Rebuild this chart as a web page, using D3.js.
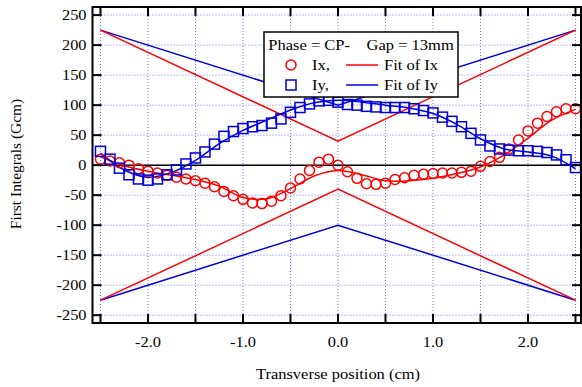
<!DOCTYPE html>
<html>
<head>
<meta charset="utf-8">
<script src="https://cdn.jsdelivr.net/npm/d3@7"></script>
<style>
  body { margin: 0; background: #fff; }
  svg text { font-family: "Liberation Serif", "DejaVu Serif", serif; fill: #000; }
</style>
</head>
<body>
<div id="chart"></div>
<script>
// measured points, every 0.1 cm
var positions = d3.range(51).map(function (i) { return +(-2.5 + i * 0.1).toFixed(1); });
var ixValues = [10, 7, 4, 0, -6, -10, -13, -17, -20, -23, -26, -30, -36, -44, -51, -57, -63, -64, -60, -51,
  -38, -23, -9, 5, 10, 0, -11, -22, -31, -32, -30, -24, -21, -17, -15, -14, -13, -13, -12, -10,
  -2, 6, 13, 27, 42, 57, 70, 81, 89, 94, 94];
var iyValues = [23, 10, -5, -16, -23, -25, -23, -16, -8, 2, 12, 22, 35, 48, 56, 61, 64, 66, 70, 77,
  88, 96, 102, 107, 108, 105, 101, 100, 98, 97, 96, 96, 96, 94, 91, 87, 80, 73, 64, 53,
  42, 32, 27, 25, 24, 24, 23, 21, 17, 9, -4];

// fitted curves, read every 0.25 cm
var fitPositions = [-2.5, -2.25, -2, -1.75, -1.5, -1.25, -1, -0.75, -0.5, -0.25, 0, 0.25, 0.5, 0.75, 1, 1.25, 1.5, 1.75, 2, 2.25, 2.5];
var fitIx = [14, -1, -10, -17, -24, -35, -54, -56, -39, -18, -9, -16, -26, -26, -22, -14, -3, 17, 45, 75, 93];
var fitIy = [20, -8, -20, -12, 8, 36, 58, 75, 92, 104, 108, 105, 100, 95, 86, 68, 44, 27, 22, 15, -6];

// straight V-shaped limit lines
var envX = [-2.5, 0, 2.5];
var envIxUpper = [225, 40, 225];
var envIxLower = [-225, -40, -225];
var envIyUpper = [225, 100, 225];
var envIyLower = [-225, -100, -225];

var xTicks = [-2.5, -2, -1.5, -1, -0.5, 0, 0.5, 1, 1.5, 2, 2.5];
var xLabels = ["-2.0", "-1.0", "0.0", "1.0", "2.0"];
var yTicks = [-250, -200, -150, -100, -50, 0, 50, 100, 150, 200, 250];

var RED = "#ff0000", BLUE = "#0000dd";

var W = 582, H = 387;
var margin = { top: 7, right: 1, bottom: 64, left: 92.5 },
    width = W - margin.left - margin.right,
    height = H - margin.top - margin.bottom;

var svg = d3.select("#chart").append("svg")
    .attr("width", W).attr("height", H);
var g = svg.append("g")
    .attr("transform", "translate(" + margin.left + "," + margin.top + ")");

var xScale = d3.scaleLinear().domain([-2.584, 2.558]).range([0, width]);
var yScale = d3.scaleLinear().domain([-263, 263.5]).range([height, 0]);

// text with a little horizontal stretch, like the original rendering
function label(parent, x, y, str, size, sx, anchor, rot) {
    var tr = "translate(" + x + "," + y + ")" + (rot ? " rotate(" + rot + ")" : "") + " scale(" + sx + ",1)";
    return parent.append("text")
        .attr("transform", tr)
        .attr("text-anchor", anchor || "start")
        .style("font-size", size + "px")
        .text(str);
}

// grid
g.append("g").selectAll("line").data(xTicks).enter().append("line")
    .attr("x1", function (d) { return xScale(d); }).attr("x2", function (d) { return xScale(d); })
    .attr("y1", 0).attr("y2", height)
    .attr("stroke", "#7878ff").attr("stroke-width", 1).attr("stroke-dasharray", "1,2");
g.append("g").selectAll("line").data(yTicks).enter().append("line")
    .attr("y1", function (d) { return yScale(d); }).attr("y2", function (d) { return yScale(d); })
    .attr("x1", 0).attr("x2", width)
    .attr("stroke", "#7878ff").attr("stroke-width", 1).attr("stroke-dasharray", "1,2");

// zero line
g.append("line")
    .attr("x1", 0).attr("x2", width)
    .attr("y1", yScale(0)).attr("y2", yScale(0))
    .attr("stroke", "#000").attr("stroke-width", 1.5);

var straight = d3.line()
    .x(function (d) { return xScale(d[0]); })
    .y(function (d) { return yScale(d[1]); });
var smooth = d3.line()
    .curve(d3.curveCatmullRom.alpha(0.5))
    .x(function (d) { return xScale(d[0]); })
    .y(function (d) { return yScale(d[1]); });

function pairs(xs, ys) { return xs.map(function (x, i) { return [x, ys[i]]; }); }

[[envIyUpper, BLUE], [envIyLower, BLUE], [envIxUpper, RED], [envIxLower, RED]].forEach(function (e) {
    g.append("path")
        .attr("d", straight(pairs(envX, e[0])))
        .attr("fill", "none").attr("stroke", e[1]).attr("stroke-width", 1.5);
});

// fits
g.append("path").attr("d", smooth(pairs(fitPositions, fitIx)))
    .attr("fill", "none").attr("stroke", RED).attr("stroke-width", 1.5);
g.append("path").attr("d", smooth(pairs(fitPositions, fitIy)))
    .attr("fill", "none").attr("stroke", BLUE).attr("stroke-width", 1.5);

// markers
g.append("g").selectAll("circle").data(pairs(positions, ixValues)).enter().append("circle")
    .attr("cx", function (d) { return xScale(d[0]); })
    .attr("cy", function (d) { return yScale(d[1]); })
    .attr("r", 5)
    .attr("fill", "none").attr("stroke", RED).attr("stroke-width", 1.5);
g.append("g").selectAll("rect").data(pairs(positions, iyValues)).enter().append("rect")
    .attr("x", function (d) { return xScale(d[0]) - 5; })
    .attr("y", function (d) { return yScale(d[1]) - 5; })
    .attr("width", 10).attr("height", 10)
    .attr("fill", "none").attr("stroke", BLUE).attr("stroke-width", 1.5);

// frame
g.append("rect").attr("x", 0).attr("y", 0).attr("width", width).attr("height", height)
    .attr("fill", "none").attr("stroke", "#000").attr("stroke-width", 2);

// inward ticks
var tickLen = 9;
var ticksG = g.append("g").attr("stroke", "#000").attr("stroke-width", 2);
xTicks.forEach(function (t) {
    ticksG.append("line").attr("x1", xScale(t)).attr("x2", xScale(t)).attr("y1", 0).attr("y2", tickLen);
    ticksG.append("line").attr("x1", xScale(t)).attr("x2", xScale(t)).attr("y1", height).attr("y2", height - tickLen);
});
yTicks.forEach(function (t) {
    ticksG.append("line").attr("y1", yScale(t)).attr("y2", yScale(t)).attr("x1", 0).attr("x2", tickLen);
    ticksG.append("line").attr("y1", yScale(t)).attr("y2", yScale(t)).attr("x1", width).attr("x2", width - tickLen);
});

// tick labels
xLabels.forEach(function (s) {
    label(g, xScale(+s), height + 24, s, 14, 1.17, "middle");
});
yTicks.forEach(function (d) {
    label(g, -6, yScale(d) + 5, String(d), 14, 1.17, "end");
});

// axis titles
label(svg, 338, 379, "Transverse position (cm)", 15, 1.1, "middle");
label(svg, 21, 164, "First Integrals (Gcm)", 15, 1.03, "middle", -90);

// legend
var lg = svg.append("g");
lg.append("rect").attr("x", 264).attr("y", 32).attr("width", 194).attr("height", 65)
    .attr("fill", "#fff").attr("stroke", "#000").attr("stroke-width", 1.5);
label(lg, 361, 50, "Phase = CP-\u00a0\u00a0\u00a0\u00a0Gap = 13mm", 14, 1.18, "middle");
lg.append("circle").attr("cx", 291).attr("cy", 65).attr("r", 5)
    .attr("fill", "none").attr("stroke", RED).attr("stroke-width", 1.5);
lg.append("rect").attr("x", 286).attr("y", 80).attr("width", 10).attr("height", 10)
    .attr("fill", "none").attr("stroke", BLUE).attr("stroke-width", 1.5);
label(lg, 312, 70, "Ix,", 14, 1.18);
label(lg, 312, 90, "Iy,", 14, 1.18);
lg.append("line").attr("x1", 346).attr("x2", 378).attr("y1", 65).attr("y2", 65)
    .attr("stroke", RED).attr("stroke-width", 1.5);
lg.append("line").attr("x1", 346).attr("x2", 378).attr("y1", 85).attr("y2", 85)
    .attr("stroke", BLUE).attr("stroke-width", 1.5);
label(lg, 384, 70, "Fit of Ix", 14, 1.18);
label(lg, 384, 90, "Fit of Iy", 14, 1.18);
</script>
</body>
</html>
